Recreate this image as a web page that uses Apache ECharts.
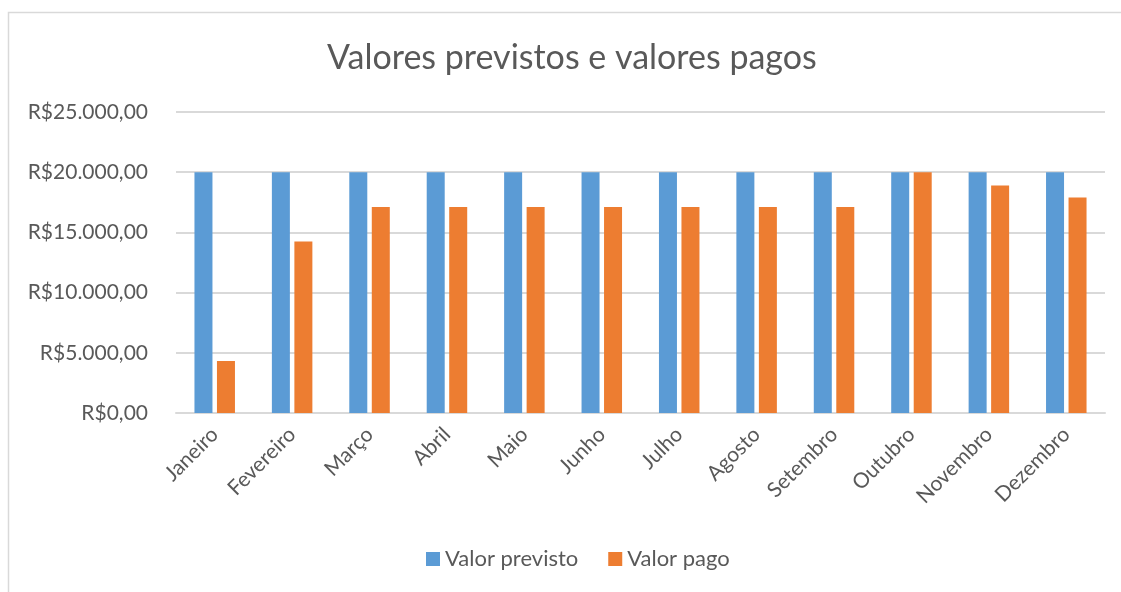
<!DOCTYPE html>
<html>
<head>
<meta charset="utf-8">
<script src="https://cdn.jsdelivr.net/npm/echarts@6/dist/echarts.min.js"></script>
<style>
html,body{margin:0;padding:0;background:#fff;}
#chart{width:1121px;height:592px;}
</style>
</head>
<body>
<div id="chart"></div>
<script>
const categories = ['Janeiro','Fevereiro','Março','Abril','Maio','Junho','Julho','Agosto','Setembro','Outubro','Novembro','Dezembro'];
const valorPrevisto = [20000,20000,20000,20000,20000,20000,20000,20000,20000,20000,20000,20000];
const valorPago = [4320,14250,17100,17100,17100,17100,17100,17100,17100,20000,18900,17900];
const seriesNames = ['Valor previsto','Valor pago'];
const titleText = 'Valores previstos e valores pagos';

const FONT = 'Lato';
function brl(v){
  const s = Math.round(v).toString().replace(/\B(?=(\d{3})+(?!\d))/g,'.');
  return 'R$' + s + ',00';
}
const chart = echarts.init(document.getElementById('chart'));
chart.setOption({
  animation:false,
  textStyle:{fontFamily:FONT},
  graphic:[
    {type:'rect',shape:{x:8.5,y:12.5,width:1130,height:600},style:{fill:'none',stroke:'#d9d9d9',lineWidth:1.5}},
    {type:'text',left:327,top:41,style:{text:titleText,fontFamily:FONT,fontSize:34,fill:'#595959'}}
  ],
  legend:{bottom:17,left:421,itemWidth:14,itemHeight:14,itemGap:30,icon:'rect',
    textStyle:{fontFamily:FONT,fontSize:22,color:'#595959'}},
  grid:{left:176,right:16,top:112,bottom:179,containLabel:false},
  xAxis:{type:'category',data:categories,
    axisLine:{lineStyle:{color:'#d9d9d9',width:2}},axisTick:{show:false},
    axisLabel:{rotate:45,fontFamily:FONT,fontSize:21,color:'#595959',margin:18}},
  yAxis:{type:'value',min:0,max:25000,interval:5000,
    axisLine:{show:false},axisTick:{show:false},
    splitLine:{lineStyle:{color:'#d9d9d9',width:2}},
    axisLabel:{formatter:brl,fontFamily:FONT,fontSize:21,color:'#595959',margin:28}},
  series:[
    {name:seriesNames[0],type:'bar',data:valorPrevisto,barWidth:18,barGap:'25%',itemStyle:{color:'#5B9BD5'}},
    {name:seriesNames[1],type:'bar',data:valorPago,barWidth:18,barGap:'25%',itemStyle:{color:'#ED7D31'}}
  ]
});
</script>
</body>
</html>
